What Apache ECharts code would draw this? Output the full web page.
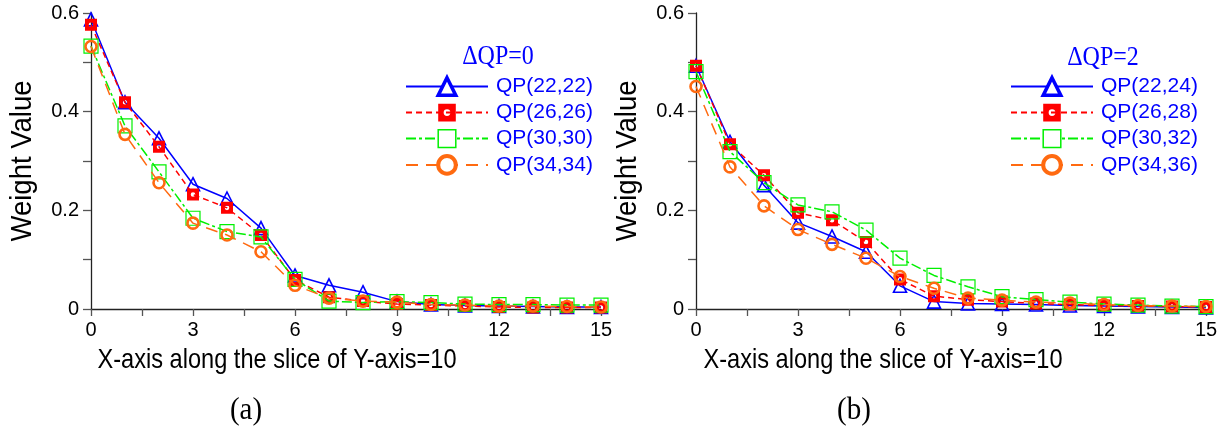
<!DOCTYPE html>
<html>
<head>
<meta charset="utf-8">
<script src="https://cdn.jsdelivr.net/npm/echarts@6/dist/echarts.min.js"></script>
<style>
html,body{margin:0;padding:0;background:#fff;}
#main{width:1231px;height:432px;}
</style>
</head>
<body>
<div id="main"></div>
<script>
// ---- data ----
const xValues = [0,1,2,3,4,5,6,7,8,9,10,11,12,13,14,15];

const namesA = ['QP(22,22)','QP(26,26)','QP(30,30)','QP(34,34)'];
const namesB = ['QP(22,24)','QP(26,28)','QP(30,32)','QP(34,36)'];

const blueA   = [0.587,0.419,0.346,0.253,0.224,0.164,0.068,0.048,0.034,0.015,0.009,0.007,0.006,0.005,0.004,0.004];
const redA    = [0.576,0.419,0.329,0.232,0.205,0.150,0.059,0.024,0.016,0.010,0.008,0.006,0.004,0.003,0.003,0.003];
const greenA  = [0.533,0.371,0.278,0.184,0.157,0.146,0.060,0.016,0.013,0.015,0.013,0.010,0.009,0.009,0.008,0.008];
const orangeA = [0.532,0.354,0.256,0.174,0.150,0.116,0.048,0.022,0.016,0.014,0.009,0.008,0.006,0.006,0.005,0.004];

const blueB   = [0.493,0.339,0.251,0.175,0.147,0.116,0.047,0.015,0.011,0.010,0.009,0.007,0.006,0.005,0.004,0.003];
const redB    = [0.493,0.334,0.271,0.195,0.180,0.136,0.060,0.026,0.019,0.015,0.011,0.009,0.007,0.006,0.005,0.004];
const greenB  = [0.481,0.319,0.256,0.211,0.197,0.160,0.103,0.068,0.045,0.025,0.019,0.014,0.010,0.008,0.006,0.005];
const orangeB = [0.451,0.288,0.209,0.161,0.131,0.103,0.066,0.042,0.022,0.018,0.014,0.012,0.009,0.007,0.006,0.005];

const xTitle = 'X-axis along the slice of Y-axis=10';
const yTitle = 'Weight Value';
const legendTitles = ['\u0394QP=0','\u0394QP=2'];
const captions = ['(a)','(b)'];

// ---- styles ----
const SANS = 'Liberation Sans, Arial, sans-serif';
const SERIF = 'Liberation Serif, Times New Roman, serif';
const BLUE = '#0000ff', RED = '#ff0000', GREEN = '#00f000', ORANGE = '#ff6a10';
const redSymbol = 'path://M0,0H10V10H0Z M5,3.1A1.9,1.9,0,1,0,5,6.9A1.9,1.9,0,1,0,5,3.1Z';

const styles = [
  {color: BLUE, symbol: 'triangle', symbolSize: 13, line: {type: 'solid', width: 1.5},
   item: {color: 'rgba(255,255,255,0)', borderColor: BLUE, borderWidth: 1.6},
   legendItem: {color: '#fff', borderColor: BLUE, borderWidth: 3.5}},
  {color: RED, symbol: redSymbol, symbolSize: 12, line: {type: [6,4], width: 1.5},
   item: {color: RED, borderWidth: 0},
   legendItem: {color: RED, borderWidth: 0}},
  {color: GREEN, symbol: 'rect', symbolSize: 14, line: {type: [10,3,3,3], width: 1.5},
   item: {color: 'rgba(255,255,255,0)', borderColor: GREEN, borderWidth: 1.2},
   legendItem: {color: '#fff', borderColor: GREEN, borderWidth: 1.5}},
  {color: ORANGE, symbol: 'circle', symbolSize: 11, line: {type: [12,8], width: 1.5},
   item: {color: 'rgba(255,255,255,0)', borderColor: ORANGE, borderWidth: 2.6},
   legendItem: {color: '#fff', borderColor: ORANGE, borderWidth: 4}}
];

function pairs(arr){ return xValues.map((x,i)=>[x, arr[i]]); }

function makeSeries(names, datasets, idx){
  return names.map((n,i)=>({
    name: n, type: 'line', xAxisIndex: idx, yAxisIndex: idx,
    data: pairs(datasets[i]),
    symbol: styles[i].symbol, symbolSize: styles[i].symbolSize,
    showAllSymbol: true,
    lineStyle: Object.assign({color: styles[i].color}, styles[i].line),
    itemStyle: styles[i].item,
    emphasis: {disabled: true},
    z: 2 + i
  }));
}

function xAxis(idx){
  return {
    type: 'value', gridIndex: idx, min: 0, max: 15, interval: 1.5,
    axisLine: {lineStyle: {color: '#222', width: 1.3}},
    axisTick: {length: 7, lineStyle: {color: '#555', width: 1.3}},
    splitLine: {show: false},
    axisLabel: {
      color: '#000', fontFamily: SANS, fontSize: 20, margin: 11,
      formatter: v => (Math.abs(v/3 - Math.round(v/3)) < 1e-6 ? String(Math.round(v)) : '')
    }
  };
}
function yAxis(idx){
  return {
    type: 'value', gridIndex: idx, min: 0, max: 0.6, interval: 0.1,
    axisLine: {show: true, lineStyle: {color: '#222', width: 1.3}},
    axisTick: {show: true, length: 8, lineStyle: {color: '#555', width: 1.3}},
    splitLine: {show: false},
    axisLabel: {
      color: '#000', fontFamily: SANS, fontSize: 20, margin: 12,
      formatter: v => { const k = Math.round(v*10); return k % 2 === 0 ? (k === 0 ? '0' : (k/10).toFixed(1)) : ''; }
    }
  };
}
function legend(names, left){
  return {
    orient: 'vertical', left: left, top: 76, align: 'left', padding: 0,
    itemWidth: 82, itemHeight: 22, itemGap: 5,
    textStyle: {color: BLUE, fontFamily: SANS, fontSize: 21, padding: [0,0,0,3]},
    data: names.map((n,i)=>({name: n, itemStyle: styles[i].legendItem})),
    selectedMode: false
  };
}

function txt(x, y, text, font, fill, sy, rot){
  const e = {type: 'text', x: x, y: y, scaleY: sy || 1,
    style: {text: text, font: font, fill: fill, align: 'center', verticalAlign: 'middle'}};
  if (rot) e.rotation = rot;
  return e;
}

const chart = echarts.init(document.getElementById('main'), null, {renderer: 'canvas'});
chart.setOption({
  animation: false,
  backgroundColor: '#fff',
  grid: [
    {left: 91, top: 13, width: 510, height: 296},
    {left: 696, top: 13, width: 510, height: 296}
  ],
  xAxis: [xAxis(0), xAxis(1)],
  yAxis: [yAxis(0), yAxis(1)],
  legend: [legend(namesA, 405), legend(namesB, 1010)],
  series: [].concat(
    makeSeries(namesA, [blueA, redA, greenA, orangeA], 0),
    makeSeries(namesB, [blueB, redB, greenB, orangeB], 1)
  ),
  graphic: [
    txt(277, 360, xTitle, '23.6px ' + SANS, '#000', 1.18),
    txt(883, 360, xTitle, '23.6px ' + SANS, '#000', 1.18),
    txt(23, 161, yTitle, '27.5px ' + SANS, '#000', 1.1, Math.PI/2),
    txt(628, 161, yTitle, '27.5px ' + SANS, '#000', 1.1, Math.PI/2),
    txt(498, 57, legendTitles[0], '24px ' + SERIF, BLUE, 1.15),
    txt(1103, 58, legendTitles[1], '24px ' + SERIF, BLUE, 1.15),
    txt(246, 410, captions[0], '29px ' + SERIF, '#000', 1.12),
    txt(854, 410, captions[1], '29px ' + SERIF, '#000', 1.12)
  ]
});
</script>
</body>
</html>
